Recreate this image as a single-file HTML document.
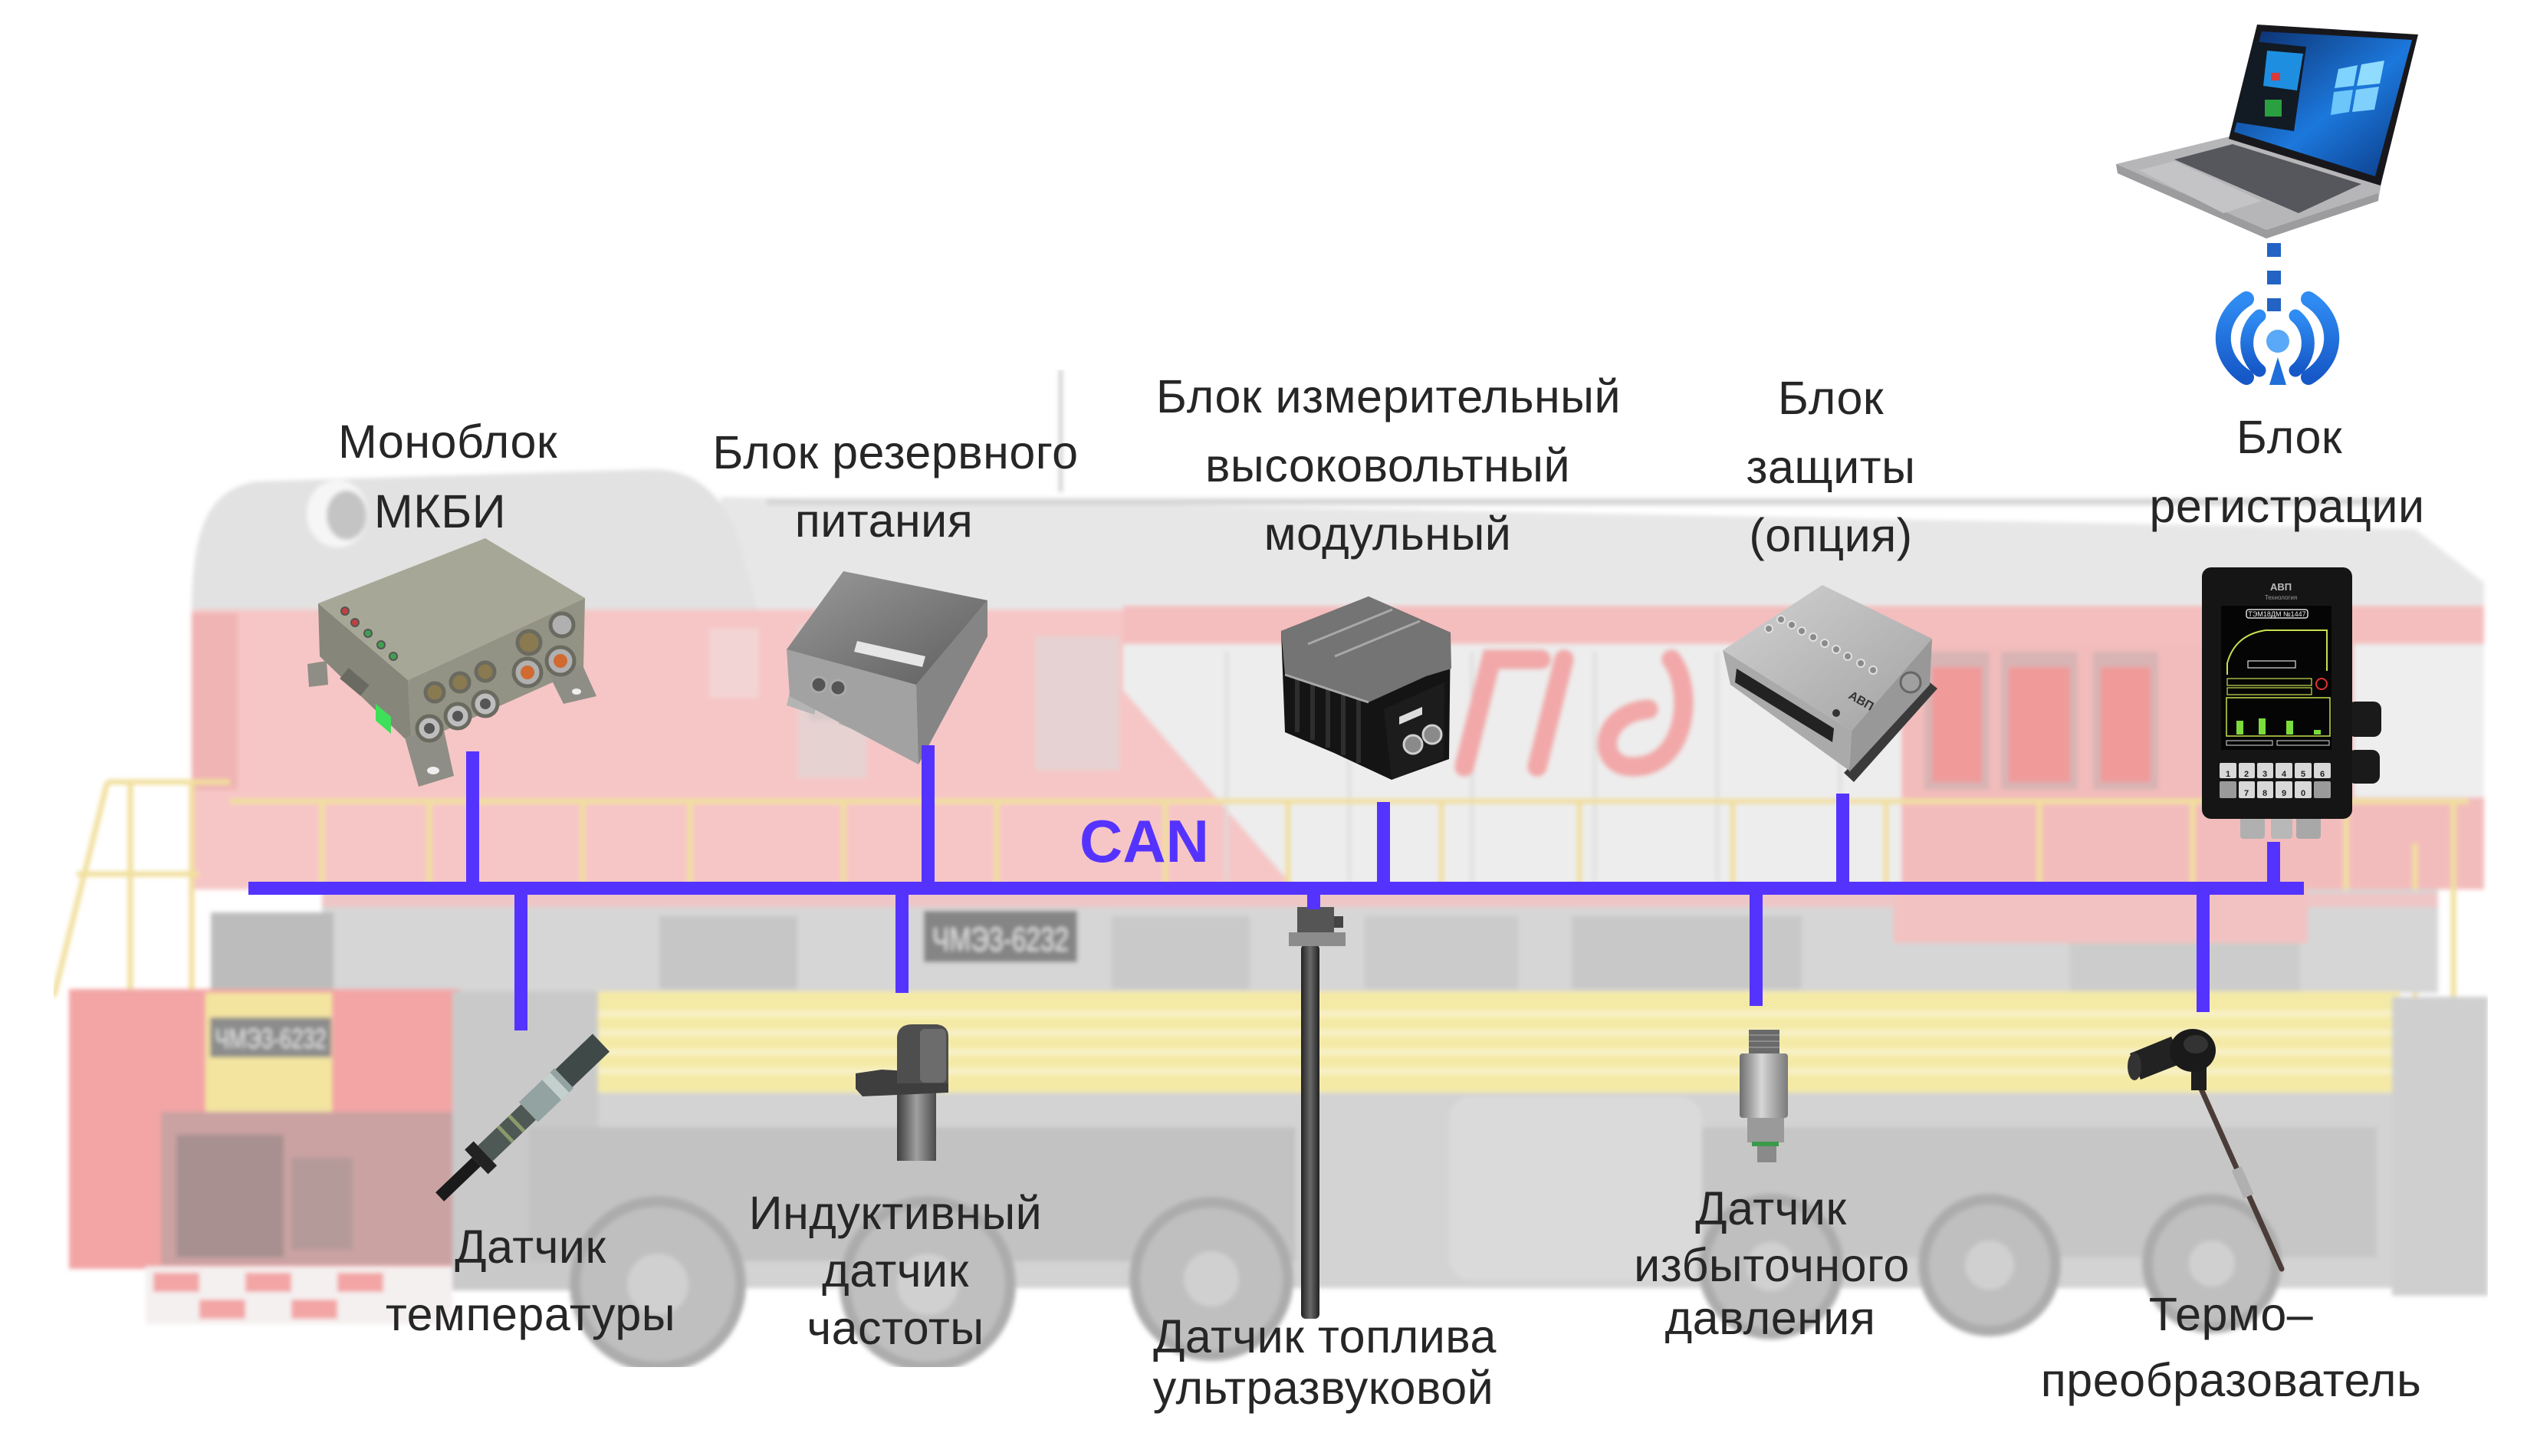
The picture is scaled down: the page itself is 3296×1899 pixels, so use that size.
<!DOCTYPE html>
<html><head><meta charset="utf-8">
<style>
html,body{margin:0;padding:0;background:#fff;}
body{width:3296px;height:1899px;overflow:hidden;}
svg{display:block;}
.t{font-family:"Liberation Sans","DejaVu Sans",sans-serif;font-size:61px;fill:#262626;text-anchor:middle;letter-spacing:0.5px;}
.s{font-family:"Liberation Sans","DejaVu Sans",sans-serif;}
</style></head><body>
<svg width="3296" height="1899" viewBox="0 0 3296 1899" xmlns="http://www.w3.org/2000/svg">
<defs>
 <filter id="soft" x="0" y="0" width="1" height="1"><feGaussianBlur stdDeviation="3"/></filter>
 <linearGradient id="silverH" x1="0" y1="0" x2="1" y2="0">
  <stop offset="0" stop-color="#6e6e6e"/><stop offset="0.45" stop-color="#d6d6d6"/><stop offset="1" stop-color="#7a7a7a"/>
 </linearGradient>
 <linearGradient id="rodH" x1="0" y1="0" x2="1" y2="0">
  <stop offset="0" stop-color="#222"/><stop offset="0.5" stop-color="#6a6a6a"/><stop offset="1" stop-color="#222"/>
 </linearGradient>
 <linearGradient id="shaftH" x1="0" y1="0" x2="1" y2="0">
  <stop offset="0" stop-color="#3c3c3c"/><stop offset="0.5" stop-color="#a0a0a0"/><stop offset="1" stop-color="#4a4a4a"/>
 </linearGradient>
 <linearGradient id="bpTop" x1="0" y1="0" x2="1" y2="1">
  <stop offset="0" stop-color="#9a9a9a"/><stop offset="1" stop-color="#5e5e5e"/>
 </linearGradient>
 <linearGradient id="prTop" x1="0" y1="0" x2="1" y2="1">
  <stop offset="0" stop-color="#d2d2d2"/><stop offset="1" stop-color="#a2a2a2"/>
 </linearGradient>
 <linearGradient id="scr" x1="0" y1="0" x2="1" y2="1">
  <stop offset="0" stop-color="#0b2a66"/><stop offset="0.55" stop-color="#1c78dc"/><stop offset="1" stop-color="#0a3782"/>
 </linearGradient>
 <linearGradient id="wifi" x1="0" y1="0" x2="0" y2="1">
  <stop offset="0" stop-color="#2f8cf2"/><stop offset="1" stop-color="#1658c8"/>
 </linearGradient>
</defs>

<rect width="3296" height="1899" fill="#fff"/>

<!-- ============ BACKGROUND (faded locomotive) ============ -->
<g filter="url(#soft)">
 <rect x="1381" y="482" width="5" height="160" fill="#cfcfcf"/>
 <polygon points="940,648 3150,690 3240,760 3240,810 940,810" fill="#e7e7e7"/>
 <rect x="1000" y="650" width="2120" height="9" fill="#d6d6d6"/>
 <path d="M250,830 C248,705 262,642 332,628 L850,612 C905,612 935,640 960,690 L990,800 L250,805 Z" fill="#e2e2e2"/>
 <ellipse cx="440" cy="670" rx="40" ry="44" fill="#f6f6f6"/>
 <ellipse cx="452" cy="672" rx="26" ry="32" fill="#c4c4c4"/>
 <rect x="250" y="795" width="2990" height="365" fill="#f6c6c6"/>
 <rect x="250" y="800" width="60" height="230" fill="#f0b4b4"/>
 <rect x="925" y="820" width="65" height="90" fill="#f3d4d4"/>
 <rect x="1040" y="815" width="90" height="200" fill="#e7d2d2"/>
 <rect x="1055" y="830" width="60" height="110" fill="#d9caca"/>
 <rect x="1350" y="830" width="110" height="175" fill="#e6d2d2"/>
 <polygon points="1465,800 2480,800 2480,1160 1690,1160 1465,900" fill="#ededed"/>
 <g stroke="#dcdcdc" stroke-width="4">
  <line x1="1600" y1="850" x2="1600" y2="1150"/><line x1="1760" y1="850" x2="1760" y2="1150"/>
  <line x1="1920" y1="850" x2="1920" y2="1150"/><line x1="2080" y1="850" x2="2080" y2="1150"/>
  <line x1="2240" y1="850" x2="2240" y2="1150"/><line x1="2400" y1="850" x2="2400" y2="1150"/>
 </g>
 <rect x="1465" y="790" width="1775" height="50" fill="#f4bebe"/>
 <g stroke="#f2a8a8" stroke-width="26" fill="none" stroke-linecap="round">
  <path d="M1910,1000 L1945,860 L2010,860"/>
  <path d="M2040,860 L2005,1000"/>
  <path d="M2180,860 C2210,900 2200,1000 2130,1000 C2080,1000 2085,930 2150,925"/>
 </g>
 <rect x="2480" y="840" width="760" height="320" fill="#f3bcbc"/>
 <rect x="2510" y="850" width="85" height="180" fill="#d8b4b4"/>
 <rect x="2520" y="870" width="65" height="150" fill="#f09a9a"/>
 <rect x="2610" y="850" width="100" height="180" fill="#d8b4b4"/>
 <rect x="2620" y="870" width="80" height="150" fill="#f09a9a"/>
 <rect x="2730" y="850" width="85" height="180" fill="#d8b4b4"/>
 <rect x="2740" y="870" width="65" height="150" fill="#f09a9a"/>
 <rect x="3070" y="840" width="170" height="200" fill="#eeeeee"/>
 <g stroke="#f1df9c" stroke-width="7" fill="none">
  <line x1="300" y1="1045" x2="3220" y2="1045"/>
  <line x1="420" y1="1045" x2="420" y2="1160"/><line x1="560" y1="1045" x2="560" y2="1160"/>
  <line x1="760" y1="1045" x2="760" y2="1160"/><line x1="900" y1="1045" x2="900" y2="1160"/>
  <line x1="1100" y1="1045" x2="1100" y2="1160"/><line x1="1300" y1="1045" x2="1300" y2="1160"/>
  <line x1="1520" y1="1045" x2="1520" y2="1160"/><line x1="1680" y1="1045" x2="1680" y2="1160"/>
  <line x1="1880" y1="1045" x2="1880" y2="1160"/><line x1="2060" y1="1045" x2="2060" y2="1160"/>
  <line x1="2260" y1="1045" x2="2260" y2="1160"/><line x1="2460" y1="1045" x2="2460" y2="1160"/>
  <line x1="2660" y1="1045" x2="2660" y2="1160"/><line x1="2860" y1="1045" x2="2860" y2="1160"/>
  <line x1="3060" y1="1045" x2="3060" y2="1160"/><line x1="3200" y1="1045" x2="3200" y2="1650"/>
  <line x1="3150" y1="1100" x2="3150" y2="1650"/>
  <line x1="70" y1="1300" x2="140" y2="1020"/><line x1="140" y1="1020" x2="300" y2="1020"/>
  <line x1="170" y1="1020" x2="170" y2="1300"/><line x1="250" y1="1020" x2="250" y2="1300"/>
  <line x1="100" y1="1140" x2="260" y2="1140"/>
 </g>
 <rect x="420" y="1160" width="2760" height="135" fill="#d6d6d6"/>
 <rect x="420" y="1165" width="2760" height="18" fill="#eec6c6"/>
 <rect x="2470" y="1160" width="540" height="70" fill="#f2c2c2"/>
 <rect x="860" y="1195" width="180" height="95" fill="#c6c6c6"/>
 <rect x="1450" y="1195" width="180" height="95" fill="#c9c9c9"/>
 <rect x="1780" y="1195" width="200" height="95" fill="#cbcbcb"/>
 <rect x="2050" y="1195" width="300" height="95" fill="#c8c8c8"/>
 <rect x="2700" y="1230" width="300" height="65" fill="#cccccc"/>
 <rect x="1205" y="1188" width="200" height="67" fill="#858585"/>
 <text class="s" x="1305" y="1240" font-size="44" fill="#e2e2e2" text-anchor="middle" textLength="178" lengthAdjust="spacingAndGlyphs">ЧМЭ3-6232</text>
 <rect x="600" y="1293" width="2530" height="133" fill="#f4eaa6"/>
 <g fill="#f8f1c8">
  <rect x="780" y="1318" width="2340" height="8"/><rect x="780" y="1343" width="2340" height="8"/>
  <rect x="780" y="1368" width="2340" height="8"/><rect x="780" y="1393" width="2340" height="8"/>
 </g>
 <rect x="275" y="1190" width="160" height="105" fill="#bcbcbc"/>
 <rect x="90" y="1290" width="510" height="365" fill="#f3a5a5"/>
 <rect x="268" y="1295" width="165" height="155" fill="#f3e4a0"/>
 <rect x="274" y="1327" width="158" height="52" fill="#8c8c8c"/>
 <text class="s" x="353" y="1367" font-size="36" fill="#e4e4e4" text-anchor="middle" textLength="145" lengthAdjust="spacingAndGlyphs">ЧМЭ3-6232</text>
 <rect x="210" y="1450" width="380" height="200" fill="#caa2a2"/>
 <rect x="230" y="1480" width="140" height="160" fill="#a89090"/>
 <rect x="380" y="1510" width="80" height="120" fill="#b59a9a"/>
 <rect x="190" y="1652" width="400" height="75" fill="#f4f0f0"/>
 <g fill="#f3a5a5"><rect x="200" y="1660" width="60" height="25"/><rect x="320" y="1660" width="60" height="25"/><rect x="440" y="1660" width="60" height="25"/><rect x="260" y="1695" width="60" height="25"/><rect x="380" y="1695" width="60" height="25"/></g>
 <rect x="590" y="1293" width="190" height="390" fill="#c9c9c9"/>
 <rect x="780" y="1425" width="2350" height="255" fill="#d3d3d3"/>
 <rect x="690" y="1470" width="1000" height="175" fill="#c2c2c2"/>
 <rect x="1890" y="1430" width="330" height="240" rx="30" fill="#dadada"/>
 <rect x="2220" y="1470" width="880" height="170" fill="#c6c6c6"/>
 <rect x="3120" y="1300" width="125" height="390" fill="#cfcfcf"/>
 <g fill="#bfbfbf" stroke="#acacac" stroke-width="14">
  <circle cx="858" cy="1675" r="108"/><circle cx="1210" cy="1675" r="108"/><circle cx="1580" cy="1668" r="100"/>
  <circle cx="2310" cy="1652" r="88"/><circle cx="2595" cy="1650" r="86"/><circle cx="2885" cy="1648" r="84"/>
 </g>
 <g fill="#d0d0d0">
  <circle cx="858" cy="1675" r="40"/><circle cx="1210" cy="1675" r="40"/><circle cx="1580" cy="1668" r="36"/>
  <circle cx="2310" cy="1652" r="32"/><circle cx="2595" cy="1650" r="32"/><circle cx="2885" cy="1648" r="30"/>
 </g>
</g>

<!-- ============ LAPTOP ============ -->
<g>
 <polygon points="2760,214 2908,178 3106,238 3102,262 2956,311 2762,226" fill="#b6b6b8"/>
 <polygon points="2760,214 2956,300 3102,252 3102,262 2956,311 2762,226" fill="#9c9c9e"/>
 <polygon points="2836,208 2912,188 3080,240 2998,278" fill="#55575d"/>
 <polygon points="2790,222 2836,210 2950,262 2900,278" fill="#c4c4c6"/>
 <polygon points="2944,32 3154,45 3105,242 2907,181" fill="#18181c"/>
 <polygon points="2950,41 3146,52 3098,230 2914,172" fill="url(#scr)"/>
 <polygon points="2940,54 3008,61 2992,171 2914,159" fill="#121a24"/>
 <polygon points="2957,66 3004,70 2996,118 2952,112" fill="#1e8fe0"/>
 <rect x="2962" y="95" width="12" height="10" fill="#d83a3a"/>
 <rect x="2954" y="130" width="22" height="22" fill="#2aa040"/>
 <polygon points="3050,90 3075,85 3070,112 3045,115" fill="#7fd4ff"/>
 <polygon points="3080,84 3110,79 3104,109 3074,112" fill="#8fdcff"/>
 <polygon points="3044,120 3069,117 3064,146 3040,150" fill="#6cc6fa"/>
 <polygon points="3073,117 3103,113 3097,143 3068,146" fill="#7fd0fc"/>
</g>
<g fill="#2263c4">
 <rect x="2957" y="317" width="18" height="18"/>
 <rect x="2957" y="353" width="18" height="18"/>
 <rect x="2957" y="389" width="18" height="17"/>
</g>
<g fill="none" stroke="url(#wifi)" stroke-linecap="round">
 <path d="M2930,492 A70,62 0 0 1 2930,390" stroke-width="20"/>
 <path d="M3011,390 A70,62 0 0 1 3011,492" stroke-width="20"/>
 <path d="M2947,483 A40,44 0 0 1 2947,412" stroke-width="17"/>
 <path d="M2994,412 A40,44 0 0 1 2994,483" stroke-width="17"/>
</g>
<circle cx="2971" cy="445" r="15" fill="#5aa8f8"/>
<polygon points="2971,466 2982,502 2960,502" fill="#1e6fd9"/>

<!-- ============ МКБИ ============ -->
<g>
 <polygon points="401,866 426,862 428,893 403,896" fill="#8e8e86"/>
 <polygon points="415,787 532,887 537,972 417,856" fill="#86867a"/>
 <polygon points="532,887 763,780 761,872 537,972" fill="#939385"/>
 <polygon points="415,787 633,702 763,780 532,887" fill="#a7a797"/>
 <polygon points="528,962 578,948 592,1012 546,1026" fill="#8e8e86"/>
 <ellipse cx="565" cy="1005" rx="8" ry="5" fill="#eee"/>
 <polygon points="716,880 760,868 778,908 735,918" fill="#8e8e86"/>
 <ellipse cx="752" cy="902" rx="6" ry="4" fill="#eee"/>
 <rect x="445" y="880" width="35" height="18" fill="#6a6a62" transform="rotate(40 462 889)"/>
 <polygon points="490,918 510,935 510,957 490,940" fill="#3ee05a"/>
 <g stroke="#555" stroke-width="2">
  <circle cx="450" cy="797" r="5" fill="#c04040"/><circle cx="463" cy="812" r="5" fill="#c04040"/>
  <circle cx="480" cy="826" r="5" fill="#40a050"/><circle cx="497" cy="841" r="5" fill="#40a050"/>
  <circle cx="513" cy="856" r="5" fill="#40a050"/>
 </g>
 <g stroke="#6a6a60" stroke-width="5">
  <circle cx="560" cy="950" r="16" fill="#bdbdbd"/><circle cx="597" cy="934" r="16" fill="#bdbdbd"/><circle cx="633" cy="918" r="16" fill="#bdbdbd"/>
  <circle cx="567" cy="903" r="12" fill="#8a7a50"/><circle cx="600" cy="890" r="12" fill="#8a7a50"/><circle cx="633" cy="876" r="12" fill="#8a7a50"/>
  <circle cx="688" cy="877" r="18" fill="#b0b0b0"/><circle cx="731" cy="862" r="18" fill="#b0b0b0"/>
  <circle cx="690" cy="838" r="15" fill="#8a7a50"/><circle cx="733" cy="815" r="15" fill="#b0b0b0"/>
 </g>
 <circle cx="560" cy="950" r="7" fill="#555"/><circle cx="597" cy="934" r="7" fill="#555"/><circle cx="633" cy="918" r="7" fill="#555"/>
 <circle cx="688" cy="877" r="9" fill="#d06a30"/><circle cx="731" cy="862" r="9" fill="#d06a30"/>
</g>

<!-- ============ Backup power ============ -->
<g>
 <polygon points="1030,903 1066,915 1062,932 1026,920" fill="#b4b4b4"/>
 <polygon points="1098,928 1134,942 1130,958 1094,944" fill="#b4b4b4"/>
 <polygon points="1166,955 1202,968 1198,985 1162,972" fill="#b4b4b4"/>
 <polygon points="1026,847 1195,893 1198,997 1030,908" fill="#a2a2a2"/>
 <polygon points="1195,893 1288,783 1288,830 1198,997" fill="#858585"/>
 <polygon points="1026,847 1100,745 1288,783 1195,893" fill="url(#bpTop)"/>
 <polygon points="1118,836 1207,856 1203,870 1114,850" fill="#e6e6e6"/>
 <circle cx="1068" cy="893" r="10" fill="#555" stroke="#aaa" stroke-width="3"/>
 <circle cx="1093" cy="897" r="10" fill="#555" stroke="#aaa" stroke-width="3"/>
</g>

<!-- ============ Measurement block ============ -->
<g>
 <polygon points="1671,823 1785,778 1892,825 1890,990 1815,1017 1740,982 1676,955" fill="#141414"/>
 <g stroke="#2e2e2e" stroke-width="6">
  <line x1="1692" y1="880" x2="1692" y2="955"/><line x1="1712" y1="888" x2="1712" y2="965"/>
  <line x1="1732" y1="895" x2="1732" y2="975"/><line x1="1752" y1="902" x2="1752" y2="985"/>
  <line x1="1772" y1="908" x2="1772" y2="995"/>
 </g>
 <polygon points="1671,823 1785,778 1892,825 1893,872 1860,882 1785,916 1676,880" fill="#747474"/>
 <g stroke="#a8a8a8" stroke-width="3" fill="none">
  <line x1="1706" y1="840" x2="1816" y2="795"/><line x1="1741" y1="856" x2="1852" y2="810"/>
  <line x1="1676" y1="880" x2="1785" y2="916"/>
 </g>
 <polygon points="1805,925 1884,890 1883,990 1815,1017" fill="#1c1c1c"/>
 <polygon points="1825,935 1855,922 1855,932 1825,945" fill="#ddd"/>
 <circle cx="1843" cy="971" r="12" fill="#8a8a8a" stroke="#cfcfcf" stroke-width="3"/>
 <circle cx="1868" cy="958" r="12" fill="#8a8a8a" stroke="#cfcfcf" stroke-width="3"/>
</g>

<!-- ============ Protection block ============ -->
<g>
 <polygon points="2405,1008 2517,890 2527,898 2418,1020" fill="#3a3a3a"/>
 <polygon points="2247,848 2415,953 2412,1005 2257,893" fill="#aaaaaa"/>
 <polygon points="2415,953 2520,833 2517,893 2412,1007" fill="#989898"/>
 <polygon points="2247,848 2377,763 2520,833 2415,953" fill="url(#prTop)"/>
 <polygon points="2265,872 2392,950 2390,968 2263,890" fill="#222"/>
 <g fill="#8a8a8a" stroke="#e0e0e0" stroke-width="2">
  <circle cx="2307" cy="820" r="5"/><circle cx="2323" cy="808" r="5"/><circle cx="2337" cy="815" r="5"/>
  <circle cx="2350" cy="823" r="5"/><circle cx="2365" cy="831" r="5"/><circle cx="2380" cy="839" r="5"/>
  <circle cx="2395" cy="847" r="5"/><circle cx="2410" cy="856" r="5"/><circle cx="2427" cy="865" r="5"/>
  <circle cx="2443" cy="874" r="5"/>
 </g>
 <text class="s" x="2410" y="910" font-size="16" font-weight="bold" fill="#333" transform="rotate(30 2410 910)">АВП</text>
 <circle cx="2395" cy="930" r="5" fill="#333"/>
 <circle cx="2492" cy="890" r="13" fill="#a0a0a0" stroke="#666" stroke-width="3"/>
</g>

<!-- ============ Registration block ============ -->
<g>
 <rect x="3062" y="915" width="44" height="46" rx="10" fill="#1a1a1a"/>
 <rect x="3062" y="978" width="42" height="44" rx="10" fill="#1a1a1a"/>
 <rect x="2922" y="1062" width="32" height="32" rx="4" fill="#b0b0b0"/>
 <rect x="2962" y="1062" width="28" height="32" rx="4" fill="#b8b8b8"/>
 <rect x="2995" y="1062" width="32" height="32" rx="4" fill="#a8a8a8"/>
 <rect x="2872" y="740" width="196" height="328" rx="12" fill="#151515"/>
 <text class="s" x="2975" y="770" font-size="13" font-weight="bold" fill="#bbb" text-anchor="middle">АВП</text>
 <text class="s" x="2975" y="782" font-size="8" fill="#999" text-anchor="middle">Технология</text>
 <rect x="2897" y="790" width="144" height="188" fill="#050505"/>
 <rect x="2930" y="795" width="80" height="11" rx="3" fill="none" stroke="#ddd" stroke-width="1.5"/>
 <text class="s" x="2970" y="804" font-size="9" fill="#eee" text-anchor="middle">ТЭМ18ДМ №1447</text>
 <path d="M2905,880 L2905,865 Q2915,828 2955,822 L3035,822 L3035,875" fill="none" stroke="#c8e050" stroke-width="2"/>
 <rect x="2932" y="862" width="62" height="9" fill="none" stroke="#ddd" stroke-width="1.2"/>
 <rect x="2905" y="885" width="110" height="9" fill="none" stroke="#c8e050" stroke-width="1.2"/>
 <rect x="2905" y="897" width="110" height="9" fill="none" stroke="#c8e050" stroke-width="1.2"/>
 <circle cx="3028" cy="892" r="7" fill="none" stroke="#e03030" stroke-width="2"/>
 <rect x="2904" y="910" width="135" height="50" fill="none" stroke="#c8e050" stroke-width="1.5"/>
 <g fill="#7cdc3c">
  <rect x="2917" y="940" width="9" height="18"/><rect x="2946" y="937" width="9" height="21"/>
  <rect x="2982" y="940" width="9" height="18"/><rect x="3018" y="952" width="9" height="6"/>
 </g>
 <rect x="2904" y="966" width="60" height="6" fill="none" stroke="#ddd" stroke-width="1"/>
 <rect x="2970" y="966" width="68" height="6" fill="none" stroke="#ddd" stroke-width="1"/>
 <g fill="#d8d8d8">
  <rect x="2895" y="995" width="22" height="20" rx="2"/><rect x="2920" y="995" width="21" height="20" rx="2"/>
  <rect x="2944" y="995" width="21" height="20" rx="2"/><rect x="2968" y="995" width="22" height="20" rx="2"/>
  <rect x="2993" y="995" width="22" height="20" rx="2"/><rect x="3018" y="995" width="22" height="20" rx="2"/>
  <rect x="2920" y="1019" width="21" height="22" rx="2"/><rect x="2944" y="1019" width="21" height="22" rx="2"/>
  <rect x="2968" y="1019" width="22" height="22" rx="2"/><rect x="2993" y="1019" width="22" height="22" rx="2"/>
 </g>
 <rect x="2895" y="1019" width="22" height="22" rx="2" fill="#9a9a9a"/>
 <rect x="3018" y="1019" width="22" height="22" rx="2" fill="#9a9a9a"/>
 <g class="s" font-size="11" fill="#222" text-anchor="middle" font-weight="bold">
  <text x="2906" y="1013">1</text><text x="2930" y="1013">2</text><text x="2954" y="1013">3</text>
  <text x="2979" y="1013">4</text><text x="3004" y="1013">5</text><text x="3029" y="1013">6</text>
  <text x="2930" y="1038">7</text><text x="2954" y="1038">8</text><text x="2979" y="1038">9</text>
  <text x="3004" y="1038">0</text>
 </g>
</g>

<!-- ============ Temperature sensor ============ -->
<g transform="translate(784,1360) rotate(136.3)">
 <rect x="0" y="-16" width="67" height="32" fill="#3f4a48"/>
 <rect x="67" y="-18" width="64" height="36" fill="#93a3a1"/>
 <rect x="75" y="-18" width="14" height="36" fill="#c4d0ce"/>
 <rect x="131" y="-14" width="78" height="28" fill="#4e5854"/>
 <rect x="150" y="-14" width="5" height="28" fill="#8a9a6a"/>
 <rect x="170" y="-14" width="5" height="28" fill="#8a9a6a"/>
 <rect x="209" y="-22" width="16" height="44" fill="#222"/>
 <rect x="225" y="-8" width="66" height="16" fill="#1a1a1a"/>
</g>

<!-- ============ Inductive sensor ============ -->
<g>
 <rect x="1170" y="1422" width="51" height="92" fill="url(#shaftH)"/>
 <polygon points="1116,1400 1150,1395 1237,1400 1237,1425 1125,1430 1116,1420" fill="#3e3e3e"/>
 <path d="M1170,1413 L1170,1352 Q1172,1336 1190,1336 L1222,1336 Q1237,1338 1237,1352 L1237,1413 Z" fill="#4e4e4e"/>
 <rect x="1200" y="1342" width="34" height="70" rx="6" fill="#6c6c6c"/>
</g>

<!-- ============ Fuel sensor ============ -->
<g>
 <rect x="1697" y="1232" width="24" height="488" rx="6" fill="url(#rodH)"/>
 <rect x="1692" y="1183" width="48" height="36" fill="#555"/>
 <rect x="1740" y="1195" width="12" height="15" fill="#444"/>
 <rect x="1681" y="1216" width="74" height="18" fill="#8c8c8c"/>
</g>

<!-- ============ Pressure sensor ============ -->
<g>
 <rect x="2281" y="1343" width="40" height="32" fill="#6a6a6a"/>
 <g stroke="#8a8a8a" stroke-width="2"><line x1="2281" y1="1350" x2="2321" y2="1350"/><line x1="2281" y1="1358" x2="2321" y2="1358"/><line x1="2281" y1="1366" x2="2321" y2="1366"/></g>
 <rect x="2269" y="1374" width="63" height="84" rx="4" fill="url(#silverH)"/>
 <rect x="2279" y="1458" width="48" height="32" fill="#9a9a9a"/>
 <rect x="2285" y="1489" width="35" height="6" fill="#3a9a4a"/>
 <rect x="2292" y="1495" width="25" height="21" fill="#8a8a8a"/>
</g>

<!-- ============ Thermo transducer ============ -->
<g>
 <line x1="2870" y1="1418" x2="2976" y2="1655" stroke="#4a3c38" stroke-width="7" stroke-linecap="round"/>
 <line x1="2917" y1="1524" x2="2933" y2="1560" stroke="#b0b0b0" stroke-width="14"/>
 <rect x="2858" y="1392" width="20" height="30" fill="#1e1e1e"/>
 <polygon points="2778,1374 2832,1352 2848,1386 2792,1408" fill="#222"/>
 <ellipse cx="2784" cy="1391" rx="9" ry="18" fill="#333"/>
 <ellipse cx="2860" cy="1370" rx="30" ry="28" fill="#1a1a1a"/>
 <ellipse cx="2864" cy="1362" rx="16" ry="12" fill="#333"/>
</g>

<!-- ============ CAN BUS ============ -->
<g fill="#5533ff">
 <rect x="324" y="1150" width="2681" height="17"/>
 <rect x="608" y="980" width="17" height="175"/>
 <rect x="1202" y="972" width="17" height="183"/>
 <rect x="1796" y="1046" width="17" height="109"/>
 <rect x="2395" y="1035" width="17" height="120"/>
 <rect x="2957" y="1098" width="17" height="57"/>
 <rect x="671" y="1160" width="17" height="184"/>
 <rect x="1168" y="1160" width="17" height="135"/>
 <rect x="1705" y="1160" width="17" height="26"/>
 <rect x="2282" y="1160" width="17" height="152"/>
 <rect x="2865" y="1160" width="17" height="160"/>
</g>
<text x="1408" y="1124" font-family="Liberation Sans, DejaVu Sans, sans-serif" font-size="78" font-weight="bold" fill="#5533ff">CAN</text>

<!-- ============ LABELS ============ -->
<text class="t" x="584" y="597">Моноблок</text>
<text class="t" x="574" y="688">МКБИ</text>
<text class="t" x="1168" y="611">Блок резервного</text>
<text class="t" x="1153" y="700">питания</text>
<text class="t" x="1811" y="538">Блок измерительный</text>
<text class="t" x="1810" y="628">высоковольтный</text>
<text class="t" x="1810" y="717">модульный</text>
<text class="t" x="2388" y="540">Блок</text>
<text class="t" x="2388" y="630">защиты</text>
<text class="t" x="2388" y="719">(опция)</text>
<text class="t" x="2986" y="591">Блок</text>
<text class="t" x="2983" y="681">регистрации</text>
<text class="t" x="692" y="1647">Датчик</text>
<text class="t" x="692" y="1735">температуры</text>
<text class="t" x="1168" y="1603">Индуктивный</text>
<text class="t" x="1168" y="1678">датчик</text>
<text class="t" x="1168" y="1753">частоты</text>
<text class="t" x="1728" y="1764">Датчик топлива</text>
<text class="t" x="1726" y="1831">ультразвуковой</text>
<text class="t" x="2310" y="1597">Датчик</text>
<text class="t" x="2311" y="1671">избыточного</text>
<text class="t" x="2309" y="1740">давления</text>
<text class="t" x="2910" y="1735">Термо–</text>
<text class="t" x="2910" y="1821">преобразователь</text>
</svg>
</body></html>
